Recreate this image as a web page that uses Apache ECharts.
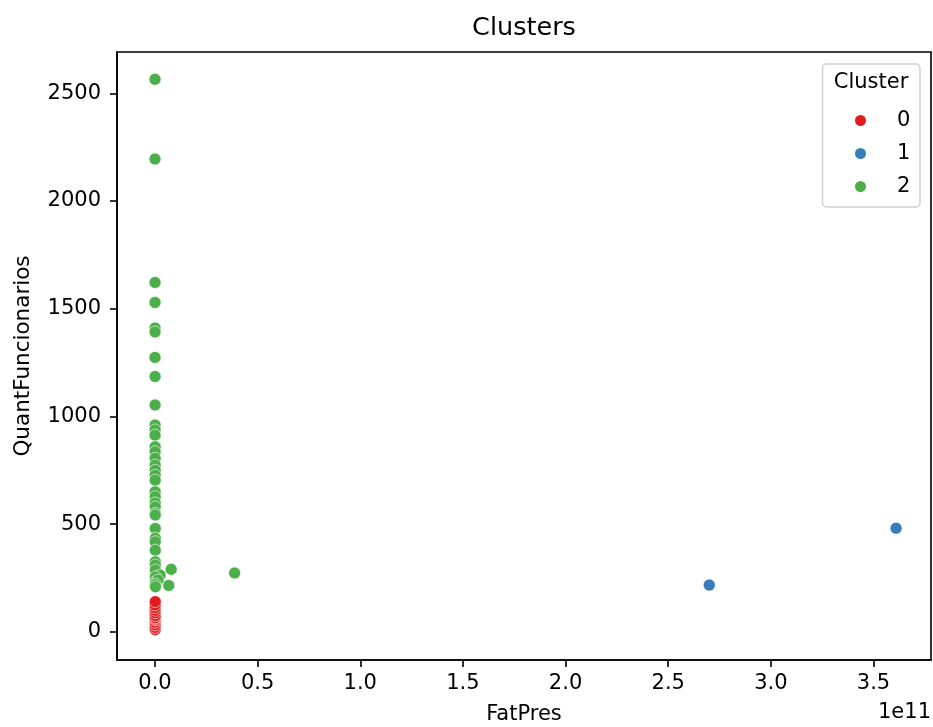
<!DOCTYPE html>
<html>
<head>
<meta charset="utf-8">
<script src="https://cdn.jsdelivr.net/npm/echarts@6/dist/echarts.min.js"></script>
<style>html,body{margin:0;padding:0;background:#fff}#c{width:933px;height:727px}</style>
</head>
<body>
<div id="c"></div>
<script>
// Cluster 0 (red)
const c0FatPres = [1.2e8, 0.8e8, 1.5e8, 0.5e8, 2.0e8, 1.0e8, 0.6e8, 1.8e8, 0.9e8, 1.3e8, 0.7e8, 1.1e8, 1.4e8];
const c0Quant   = [10, 20, 32, 44, 55, 62, 66, 75, 88, 100, 112, 125, 140];
// Cluster 1 (blue)
const c1FatPres = [2.70e11, 3.61e11];
const c1Quant   = [217, 481];
// Cluster 2 (green)
const c2FatPres = [0.2e8, 0.1e8, 0.3e8, 0.2e8, 0.4e8, 0.3e8, 0.2e8, 0.5e8, 0.6e8, 0.4e8, 0.7e8, 0.5e8, 0.8e8, 0.6e8, 0.9e8, 0.7e8, 1.0e8, 0.8e8, 1.1e8, 0.9e8, 1.2e8, 1.0e8, 1.3e8, 1.1e8, 1.4e8, 1.2e8, 1.5e8, 1.3e8, 1.6e8, 1.4e8, 1.7e8, 2.0e8, 2.5e9, 1.9e8, 2.1e8, 1.5e9, 2.2e8, 2.3e8, 0.079e11, 0.067e11, 0.388e11];
const c2Quant   = [2565, 2195, 1622, 1529, 1410, 1392, 1274, 1185, 1053, 960, 937, 913, 859, 836, 806, 774, 750, 727, 704, 650, 627, 598, 580, 550, 542, 480, 434, 418, 379, 325, 310, 287, 263, 255, 232, 240, 220, 209, 290, 215, 273];

const xTicks = [0, 0.5e11, 1.0e11, 1.5e11, 2.0e11, 2.5e11, 3.0e11, 3.5e11];
const yTicks = [0, 500, 1000, 1500, 2000, 2500];
const clusterNames = ['0', '1', '2'];

const colors = ['#e41a1c', '#377eb8', '#4daf4a'];
const FONT = 'DejaVu Sans';

function zip(a, b) { return a.map((v, i) => [v, b[i]]); }

const chart = echarts.init(document.getElementById('c'));
const seriesData = [zip(c0FatPres, c0Quant), zip(c1FatPres, c1Quant), zip(c2FatPres, c2Quant)];

const axisLine = { show: true, onZero: false, lineStyle: { color: '#000', width: 1.6 } };

chart.setOption({
  animation: false,
  backgroundColor: '#fff',
  grid: { left: 117, right: 2, top: 52, bottom: 67, show: true, borderColor: '#000', borderWidth: 1.6, backgroundColor: 'transparent' },
  xAxis: {
    type: 'value', min: -0.185e11, max: 3.78e11,
    splitLine: { show: false },
    axisLine: axisLine,
    axisTick: { show: true, length: 7, lineStyle: { color: '#000', width: 1.6 }, customValues: xTicks },
    axisLabel: { customValues: xTicks, color: '#000', fontFamily: FONT, fontSize: 21, margin: 13,
      formatter: v => (v / 1e11).toFixed(1) }
  },
  yAxis: {
    type: 'value', min: -131, max: 2692,
    splitLine: { show: false },
    axisLine: axisLine,
    axisTick: { show: true, length: 7, lineStyle: { color: '#000', width: 1.6 }, customValues: yTicks },
    axisLabel: { customValues: yTicks, color: '#000', fontFamily: FONT, fontSize: 21, margin: 16,
      formatter: v => String(v) }
  },
  legend: {
    orient: 'vertical', left: 848, top: 105, itemGap: 12,
    itemWidth: 13, itemHeight: 13, icon: 'circle',
    textStyle: { fontFamily: FONT, fontSize: 21, color: '#000', padding: [0, 0, 0, 25] },
    data: clusterNames
  },
  graphic: [
    { type: 'rect', z: 3, shape: { x: 822.5, y: 64, width: 97.5, height: 143, r: 4 },
      style: { fill: 'rgba(255,255,255,0.8)', stroke: '#d0d0d0', lineWidth: 1.5 } },
    { type: 'text', z: 5, x: 871, y: 83, style: { text: 'Cluster', font: '21px "DejaVu Sans"', fill: '#000', textAlign: 'center', textVerticalAlign: 'middle' } },
    { type: 'text', x: 524, y: 28, style: { text: 'Clusters', font: '25.5px "DejaVu Sans"', fill: '#000', textAlign: 'center', textVerticalAlign: 'middle' } },
    { type: 'text', x: 524, y: 715, style: { text: 'FatPres', font: '21px "DejaVu Sans"', fill: '#000', textAlign: 'center', textVerticalAlign: 'middle' } },
    { type: 'text', x: 931, y: 713, style: { text: '1e11', font: '21px "DejaVu Sans"', fill: '#000', textAlign: 'right', textVerticalAlign: 'middle' } },
    { type: 'text', x: 23, y: 356, rotation: Math.PI / 2, style: { text: 'QuantFuncionarios', font: '21.5px "DejaVu Sans"', fill: '#000', textAlign: 'center', textVerticalAlign: 'middle' } }
  ],
  series: clusterNames.map((n, i) => ({
    name: n, type: 'scatter', data: seriesData[i], symbol: 'circle', symbolSize: 12,
    itemStyle: { color: colors[i], borderColor: '#fff', borderWidth: 0.6, opacity: 1 },
    emphasis: { disabled: true }
  }))
});
</script>
</body>
</html>
